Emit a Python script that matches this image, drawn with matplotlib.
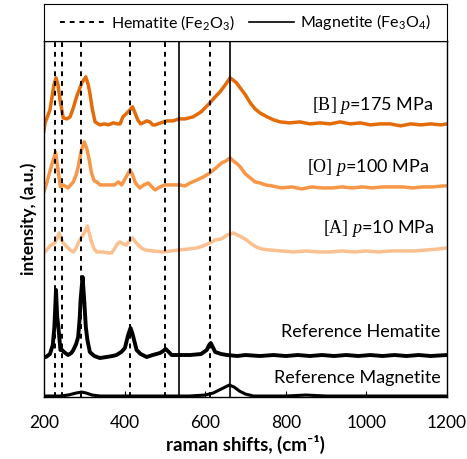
import matplotlib
matplotlib.use("Agg")
import matplotlib.pyplot as plt
from matplotlib.lines import Line2D

plt.rcParams['font.family'] = ['Lato', 'DejaVu Sans']
plt.rcParams['mathtext.fontset'] = 'custom'
plt.rcParams['mathtext.rm'] = 'Lato'
plt.rcParams['mathtext.bf'] = 'Lato:bold'
plt.rcParams['mathtext.it'] = 'Liberation Serif:italic'
plt.rcParams['mathtext.sf'] = 'Liberation Serif'

# peak positions (cm-1)
hematite_peaks = [227, 245, 293, 414, 501, 612]
magnetite_peaks = [536, 662]

# [B] p=175 MPa
b_x = [200, 203, 215, 225, 230, 235, 240, 248, 257, 265, 273, 281, 294, 304, 310, 314, 320, 327, 339,
       350, 360, 372, 383, 389, 396, 409, 420, 427, 433, 440, 446, 455, 463, 470, 476, 490, 505, 520,
       535, 550, 570, 590, 612, 625, 637, 650, 662, 669, 678, 687, 700, 712, 724, 736, 754, 770, 786,
       810, 835, 860, 885, 910, 935, 960, 985, 1010, 1034, 1060, 1085, 1110, 1135, 1160, 1185, 1200]
b_y = [266, 274, 287, 312, 319, 312, 297, 279, 278, 280, 289, 300, 314, 320, 312, 304, 288, 275, 272,
       273, 272, 274, 273, 273, 280, 285, 290, 283, 277, 273, 274, 276, 275, 272, 272, 274, 276, 276,
       278, 278, 280, 285, 294, 300, 305, 312, 319, 317, 314, 309, 302, 294, 288, 284, 280, 277, 275,
       274, 275, 273, 274, 273, 275, 273, 274, 272, 273, 273, 271, 273, 272, 273, 272, 273]

# [O] p=100 MPa
o_x = [200, 207, 218, 229, 236, 241, 248, 260, 273, 280, 285, 292, 300, 306, 312, 318, 325, 331, 340,
       360, 375, 385, 393, 404, 414, 420, 427, 438, 448, 459, 468, 476, 488, 500, 520, 538, 550, 563,
       580, 596, 612, 627, 641, 652, 662, 670, 680, 687, 700, 712, 724, 736, 750, 766, 790, 815, 840,
       865, 890, 915, 940, 965, 990, 1015, 1040, 1065, 1090, 1115, 1140, 1165, 1190, 1200]
o_y = [205, 214, 230, 245, 224, 210, 212, 209, 215, 222, 230, 245, 255, 249, 238, 224, 216, 215, 212,
       212, 212, 215, 212, 220, 227, 222, 214, 209, 212, 214, 210, 207, 210, 212, 212, 212, 211, 214,
       217, 220, 224, 229, 234, 236, 239, 236, 233, 230, 223, 219, 215, 214, 212, 211, 209, 210, 208,
       210, 209, 209, 210, 209, 210, 209, 210, 210, 210, 209, 210, 210, 211, 211]

# [A] p=10 MPa
a_x = [200, 207, 215, 227, 238, 243, 248, 255, 265, 273, 280, 285, 292, 300, 308, 313, 318, 325, 331,
       345, 360, 368, 375, 382, 389, 397, 405, 412, 420, 427, 434, 442, 451, 470, 496, 515, 536, 560,
       579, 595, 612, 625, 641, 655, 670, 680, 690, 703, 715, 727, 740, 760, 790, 820, 850, 880, 910,
       940, 970, 1000, 1030, 1060, 1090, 1120, 1150, 1180, 1200]
a_y = [144, 147, 151, 154, 164, 158, 154, 151, 147, 145, 149, 154, 159, 164, 171, 163, 155, 148, 145,
       145, 144, 144, 148, 153, 155, 153, 152, 156, 159, 155, 152, 149, 147, 146, 145, 146, 147, 148,
       149, 151, 154, 157, 158, 162, 164, 162, 160, 157, 153, 150, 148, 147, 146, 145, 146, 145, 145,
       146, 145, 146, 145, 146, 146, 146, 147, 148, 149]

# Reference Hematite
h_x = [200, 205, 215, 222, 226, 230, 233, 236, 241, 245, 250, 260, 268, 273, 280, 285, 289, 291, 296,
       300, 304, 308, 314, 325, 339, 355, 370, 380, 392, 401, 409, 415, 420, 425, 430, 440, 455, 470,
       488, 496, 502, 510, 517, 535, 563, 590, 604, 610, 614, 619, 625, 640, 654, 680, 700, 736, 770,
       800, 830, 860, 890, 920, 950, 980, 1010, 1040, 1070, 1100, 1130, 1160, 1200]
h_y = [40, 40, 43, 52, 70, 107, 80, 70, 47, 47, 45, 42, 44, 47, 53, 60, 80, 97, 120,
       97, 70, 57, 45, 41, 39, 40, 41, 42, 45, 49, 62, 69, 63, 55, 47, 43, 40, 42,
       44, 46, 48, 45, 42, 42, 42, 43, 47, 52, 54, 50, 45, 43, 42, 41, 42, 41, 42,
       41, 42, 41, 42, 41, 42, 41, 42, 41, 42, 41, 42, 41, 42]

# Reference Magnetite
m_x = [200, 240, 260, 280, 293, 305, 320, 340, 560, 600, 620, 640, 660, 672, 685, 700, 720, 800, 850, 900, 1200]
m_y = [1, 1, 2, 4, 5, 4, 2, 1, 1, 2, 4, 8, 12, 10, 6, 3, 1, 1, 2, 1, 1]

fig = plt.figure(figsize=(4.67, 4.59), dpi=100)
ax = fig.add_axes([0.094, 0.135, 0.863, 0.776])
ax_leg = fig.add_axes([0.094, 0.911, 0.863, 0.081])

ax.plot(b_x, b_y, color='#E36C09', lw=2.5)
ax.plot(o_x, o_y, color='#F79646', lw=2.5)
ax.plot(a_x, a_y, color='#FAC08F', lw=2.5)
ax.plot(h_x, h_y, color='black', lw=2.8)
ax.plot(m_x, m_y, color='black', lw=2.2)

for p in hematite_peaks:
    ax.axvline(p, color='black', lw=1.4, ls=(0, (2.5, 2.5)), zorder=5)
for p in magnetite_peaks:
    ax.axvline(p, color='black', lw=1.2, zorder=5)

ax.text(1166, 291, r'$\mathsf{[B]}\ \mathit{p}$=175 MPa', ha='right', va='center', fontsize=13)
ax.text(1156, 229, r'$\mathsf{[O]}\ \mathit{p}$=100 MPa', ha='right', va='center', fontsize=13)
ax.text(1169, 168, r'$\mathsf{[A]}\ \mathit{p}$=10 MPa', ha='right', va='center', fontsize=13)
ax.text(1185, 65, 'Reference Hematite', ha='right', va='center', fontsize=13)
ax.text(1185, 19, 'Reference Magnetite', ha='right', va='center', fontsize=13)

ax.set_xlim(200, 1200)
ax.set_ylim(0, 356)
ax.set_xticks([200, 400, 600, 800, 1000, 1200])
ax.set_yticks([])
ax.tick_params(axis='x', direction='in', length=4, labelsize=12.5, pad=13)
ax.set_xlabel('raman shifts, (cm⁻¹)', fontsize=13.5, fontweight='bold', labelpad=3)
ax.set_ylabel('intensity, (a.u.)', fontsize=12.5, fontweight='bold', labelpad=5)
for s in ax.spines.values():
    s.set_linewidth(1.0)

ax_leg.set_xticks([])
ax_leg.set_yticks([])
handles = [Line2D([], [], color='black', lw=1.4, ls=(0, (2.5, 2.5))),
           Line2D([], [], color='black', lw=1.2)]
ax_leg.legend(handles, [r'Hematite (Fe$_2$O$_3$)', r'Magnetite (Fe$_3$O$_4$)'],
              loc='center', ncol=2, frameon=False, fontsize=11.5,
              handlelength=2.8, columnspacing=0.9, handletextpad=0.4)

fig.savefig('out.png', dpi=100)
